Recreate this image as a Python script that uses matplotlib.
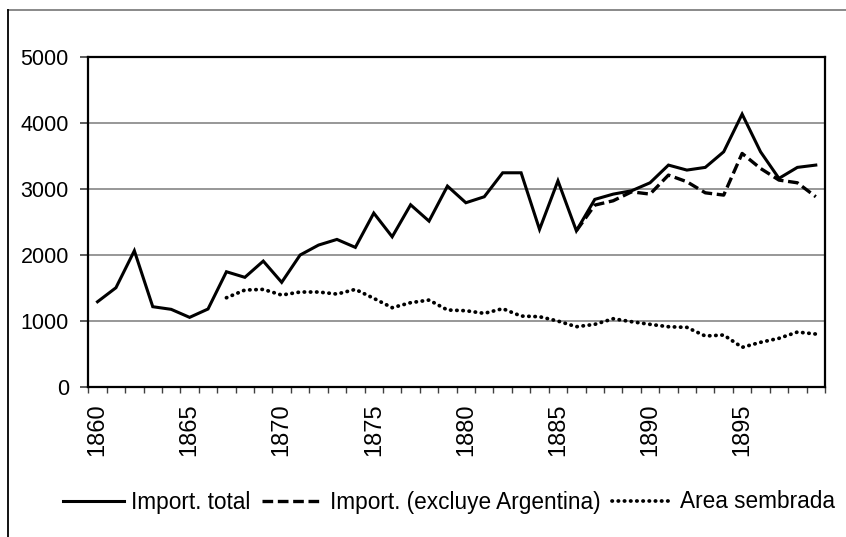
import matplotlib
matplotlib.use("Agg")
import matplotlib.pyplot as plt
from matplotlib.lines import Line2D
import numpy as np

years = list(range(1860, 1900))
import_total = [1290, 1503, 2065, 1215, 1175, 1053, 1180, 1746, 1661, 1908,
                1585, 2000, 2151, 2237, 2116, 2637, 2277, 2763, 2515, 3047,
                2794, 2885, 3249, 3249, 2389, 3127, 2368, 2845, 2925, 2976,
                3097, 3366, 3290, 3331, 3568, 4140, 3568, 3164, 3331, 3366]
excl_years = list(range(1886, 1900))
import_excl = [2368, 2758, 2824, 2960, 2925, 3214, 3113, 2945, 2910, 3543,
               3315, 3138, 3097, 2885]
area_years = list(range(1867, 1900))
area_sembrada = [1351, 1468, 1478, 1392, 1438, 1438, 1407, 1478, 1342, 1200,
                 1276, 1316, 1165, 1154, 1114, 1185, 1073, 1063, 997, 911,
                 947, 1032, 987, 947, 911, 901, 770, 785, 598, 674,
                 735, 830, 800]
labels = ["Import. total", "Import. (excluye Argentina)", "Area sembrada"]
yticks = [0, 1000, 2000, 3000, 4000, 5000]

plt.rcParams['font.family'] = ['Liberation Sans', 'DejaVu Sans']

W, H = 846, 537
fig = plt.figure(figsize=(W / 100, H / 100), dpi=100)
ax = fig.add_axes([88.3 / W, 1 - 386.7 / H, (825 - 88.3) / W, (386.7 - 57.5) / H])

x0 = years[0]
xi_all = [y - x0 for y in years]
xi_excl = [y - x0 for y in excl_years]
xi_area = [y - x0 for y in area_years]

ax.plot(xi_all, import_total, color='black', lw=2.2, solid_joinstyle='miter', label=labels[0])
ax.plot(xi_excl, import_excl, color='black', lw=2.4, linestyle=(0, (3.2, 1.4)), label=labels[1])
ax.plot(xi_area, area_sembrada, color='black', lw=2.7, linestyle=(0, (0.1, 1.55)),
        dash_capstyle='round', label=labels[2])

ax.set_xlim(-0.5, len(years) - 0.5)
ax.set_ylim(0, 5000)
ax.set_yticks(yticks)
ax.set_yticklabels([str(v) for v in yticks], fontsize=15.5)
ax.tick_params(axis='y', direction='out', length=5.5, width=1.2, pad=8.5, color='#404040')

major = [i for i, y in enumerate(years) if y % 5 == 0]
ax.set_xticks(major)
ax.set_xticklabels([str(years[i]) for i in major], rotation=90, fontsize=17)
ax.tick_params(axis='x', which='major', length=0, pad=12)
ax.set_xticks(np.arange(-0.5, len(years) + 0.5, 1.0), minor=True)
ax.tick_params(axis='x', which='minor', direction='out', length=4, width=1.0, color='#404040')

for v in yticks[1:-1]:
    ax.axhline(v, color='#7a7a7a', lw=1.1, zorder=0)

for s in ax.spines.values():
    s.set_color('black')
    s.set_linewidth(1.6)

# Outer chart frame (top and left edges)
fig.add_artist(Line2D([8 / W, 1], [1 - 10 / H, 1 - 10 / H], color='#808080', lw=1.3,
                      transform=fig.transFigure))
fig.add_artist(Line2D([8.3 / W, 8.3 / W], [0, 1 - 10 / H], color='black', lw=1.3,
                      transform=fig.transFigure))

fig.legend(loc='center', bbox_to_anchor=(449 / W, 1 - 502 / H), ncol=3, frameon=False,
           fontsize=16.3, handlelength=2.7, handletextpad=0.3, columnspacing=0.5,
           borderaxespad=0)

fig.savefig('out.png', dpi=100)
